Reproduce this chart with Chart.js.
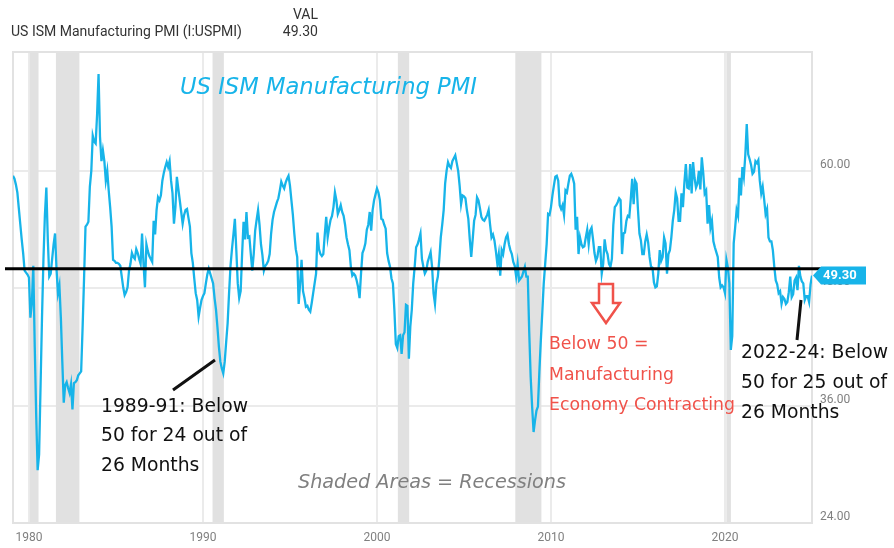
<!DOCTYPE html>
<html>
<head>
<meta charset="utf-8">
<script src="https://cdn.jsdelivr.net/npm/chart.js@4.4.1/dist/chart.umd.min.js"></script>
<style>
  html, body { margin: 0; padding: 0; background: #fff; }
  canvas { display: block; }
</style>
</head>
<body>
<canvas id="chart" width="894" height="548"></canvas>
<script>
"use strict";
// monthly readings, Jan 1979 .. Dec 2024
const START_YEAR = 1979;
const PMI_1979_1988 = [
    59.5, 59.2, 58.6, 57.8, 56.2, 54.6, 53.0, 51.6, 49.8, 49.6, 49.4, 49.1,
    45.0, 46.5, 50.3, 42.0, 35.0, 29.4, 31.0, 38.0, 45.0, 51.0, 55.5, 58.3,
    53.0, 49.2, 49.5, 51.0, 52.5, 53.6, 50.0, 47.5, 48.3, 45.0, 40.5, 36.3,
    38.1, 38.4, 37.8, 37.3, 38.2, 35.6, 38.3, 38.4, 38.6, 39.1, 39.3, 39.5,
    44.0, 49.0, 54.3, 54.5, 54.8, 58.4, 60.0, 63.6, 63.0, 62.8, 65.8, 69.9,
    63.5, 61.0, 62.1, 61.0, 59.0, 60.0, 58.0, 56.3, 54.3, 50.9, 50.8, 50.6,
    50.6, 50.5, 50.3, 49.2, 48.1, 47.3, 47.6, 48.1, 49.8, 50.5, 51.6, 51.2,
    51.0, 52.0, 51.6, 51.0, 50.5, 53.6, 50.5, 48.1, 52.5, 51.8, 51.3, 51.0,
    50.7, 54.9, 53.5, 56.0, 57.3, 57.0, 57.5, 59.0, 59.8, 60.4, 60.9, 60.4,
    61.0, 59.0, 57.7, 54.6, 56.3, 59.4, 58.2, 57.0, 55.8, 54.6, 55.5, 56.0,
];
const PMI_1989_1998 = [
    56.1, 55.2, 54.3, 51.6, 50.6, 49.0, 47.5, 46.8, 45.1, 46.0, 46.8, 47.2,
    47.5, 48.5, 49.4, 50.0, 49.5, 49.0, 48.5, 47.0, 45.8, 44.0, 42.0, 40.5,
    39.8, 39.3, 40.5, 42.5, 44.4, 47.5, 50.3, 52.0, 53.5, 55.1, 51.9, 48.5,
    47.0, 47.7, 51.5, 54.8, 53.0, 55.8, 53.2, 53.3, 51.5, 49.8, 51.5, 53.9,
    55.0, 56.0, 54.5, 52.5, 51.4, 49.8, 50.3, 50.5, 50.8, 51.5, 53.6, 55.0,
    55.8, 56.3, 56.8, 57.2, 58.0, 58.9, 58.5, 58.2, 58.8, 59.2, 59.5, 58.5,
    57.0, 55.5, 53.6, 52.0, 51.2, 46.4, 48.5, 50.9, 47.7, 47.0, 46.1, 46.2,
    45.8, 45.6, 46.5, 47.5, 48.5, 49.5, 53.7, 52.0, 51.5, 51.3, 51.5, 53.5,
    55.3, 53.2, 54.2, 55.0, 55.4, 56.3, 57.8, 57.0, 55.6, 56.0, 56.5, 55.8,
    55.4, 54.5, 53.2, 52.5, 51.9, 50.2, 49.3, 49.5, 49.3, 48.8, 48.1, 47.0,
];
const PMI_1999_2008 = [
    49.5, 51.6, 52.0, 52.6, 54.0, 54.5, 55.8, 53.9, 56.0, 57.0, 57.6, 58.2,
    57.8, 57.0, 55.1, 55.0, 54.5, 54.1, 51.6, 50.8, 50.2, 49.0, 48.5, 45.8,
    42.3, 41.9, 43.1, 43.2, 41.3, 43.2, 43.5, 46.3, 46.2, 40.8, 44.1, 45.8,
    48.5, 50.2, 52.2, 52.5, 53.0, 53.6, 51.0, 50.2, 49.5, 49.8, 50.7, 51.2,
    51.7, 50.2, 47.5, 46.4, 48.5, 49.2, 51.0, 53.2, 54.5, 56.0, 58.7, 60.0,
    60.9, 60.5, 60.3, 61.0, 61.3, 61.6, 60.8, 60.0, 58.5, 56.6, 57.5, 57.4,
    57.2, 56.0, 55.1, 53.0, 51.2, 53.0, 54.9, 55.5, 57.3, 57.0, 56.2, 55.3,
    55.0, 54.9, 55.2, 55.5, 56.0, 54.5, 53.2, 53.5, 52.9, 51.8, 50.5, 51.5,
    49.3, 51.9, 51.5, 52.5, 53.2, 53.5, 52.5, 51.9, 51.5, 50.7, 50.3, 49.2,
    50.5, 48.8, 49.0, 49.2, 49.7, 50.2, 49.2, 49.2, 43.5, 38.9, 35.9, 33.3,
];
const PMI_2009_2018 = [
    34.5, 35.5, 35.9, 39.5, 42.7, 45.5, 48.5, 50.5, 52.5, 55.6, 55.5, 56.3,
    57.5, 58.5, 59.4, 59.5, 59.0, 56.5, 56.1, 56.5, 55.5, 58.0, 57.8, 58.7,
    59.5, 59.7, 59.3, 58.7, 54.0, 55.3, 51.5, 53.2, 52.5, 52.2, 52.3, 53.2,
    54.0, 52.5, 53.9, 54.2, 53.0, 51.6, 50.8, 51.2, 52.2, 52.2, 49.5, 50.5,
    53.0, 51.9, 51.5, 50.5, 50.2, 51.0, 54.5, 56.3, 56.5, 56.8, 57.2, 57.0,
    51.5, 53.6, 53.7, 54.9, 55.4, 55.3, 57.1, 59.2, 56.6, 59.0, 58.7, 56.0,
    53.6, 52.9, 51.5, 51.5, 52.8, 53.5, 52.7, 51.2, 50.2, 50.1, 48.6, 48.1,
    48.2, 49.5, 51.9, 50.8, 51.2, 53.2, 52.6, 49.5, 51.5, 51.9, 53.2, 54.9,
    56.0, 57.8, 57.2, 54.9, 54.9, 57.7, 56.3, 58.8, 60.7, 58.3, 58.2, 60.7,
    57.7, 60.9, 59.3, 58.3, 58.7, 60.0, 58.1, 61.4, 59.8, 57.7, 58.0, 54.6,
];
const PMI_2019_2024 = [
    56.5, 54.2, 54.9, 52.8, 52.2, 51.7, 51.2, 49.1, 48.1, 48.3, 48.1, 47.5,
    50.9, 50.1, 48.5, 41.7, 43.1, 52.6, 54.2, 56.0, 55.4, 59.3, 57.5, 60.4,
    59.4, 61.6, 64.8, 61.7, 61.2, 60.6, 59.7, 59.9, 61.0, 60.8, 61.1, 59.0,
    57.7, 58.4, 57.1, 55.6, 56.1, 53.2, 52.8, 52.8, 51.9, 50.2, 48.8, 48.4,
    47.5, 47.7, 46.4, 47.1, 46.9, 46.4, 46.6, 47.6, 49.2, 47.1, 47.4, 48.8,
    49.1, 47.8, 50.3, 49.2, 48.7, 48.5, 46.8, 47.2, 47.2, 46.6, 48.4, 49.3,
];
const PMI = [].concat(PMI_1979_1988, PMI_1989_1998, PMI_1999_2008, PMI_2009_2018, PMI_2019_2024);

// NBER recessions, as decimal years
const RECESSION_START = [1980.05, 1981.55, 1990.55, 2001.2, 2007.95, 2020.08];
const RECESSION_END = [1980.55, 1982.9, 1991.2, 2001.85, 2009.45, 2020.34];

const YEAR_TICKS = [1980, 1990, 2000, 2010, 2020];
const VALUE_TICKS = [24, 36, 48, 60];
const THRESHOLD = 50;

const BLUE = "#17b4e9";
const COMIC = "'Comic Sans MS', 'DejaVu Sans', sans-serif";

const NOTES = [
    { lines: ["US ISM Manufacturing PMI"], x: 180, y: 88, w: 297, color: BLUE, style: "italic" },
    { lines: ["1989-91: Below", "50 for 24 out of", "26 Months"], x: 101, y: 407, w: 147, gap: 29.5, color: "#111" },
    { lines: ["Below 50 =", "Manufacturing", "Economy Contracting"], x: 549, y: 345, w: 186, fit: 2, gap: 30.5, color: "#f0524a" },
    { lines: ["Shaded Areas = Recessions"], x: 298, y: 483, w: 268, color: "#808080", style: "italic" },
    { lines: ["2022-24: Below", "50 for 25 out of", "26 Months"], x: 741, y: 353, w: 147, gap: 30, color: "#111" },
];

function fontSizeFor(ctx, text, width, style, family) {
    ctx.font = `${style} 20px ${family}`;
    return (20 * width) / ctx.measureText(text).width;
}

const overlay = {
    id: "overlay",
    beforeDraw(chart) {
        const ctx = chart.ctx;
        ctx.save();
        ctx.fillStyle = "#fff";
        ctx.fillRect(0, 0, chart.width, chart.height);
        ctx.restore();
    },
    beforeDatasetsDraw(chart) {
        const { ctx, chartArea: a, scales } = chart;
        ctx.save();
        ctx.fillStyle = "#e1e1e1";
        RECESSION_START.forEach(function (s, i) {
            const x0 = scales.x.getPixelForValue(s);
            const x1 = scales.x.getPixelForValue(RECESSION_END[i]);
            ctx.fillRect(x0, a.top, x1 - x0, a.bottom - a.top);
        });
        ctx.strokeStyle = "#e2e2e2";
        ctx.lineWidth = 2;
        ctx.strokeRect(a.left, a.top, a.right - a.left, a.bottom - a.top);
        ctx.restore();
    },
    afterDatasetsDraw(chart) {
        const { ctx, chartArea: a, scales } = chart;
        const last = PMI[PMI.length - 1];
        ctx.save();

        // 50 line
        const y50 = scales.y.getPixelForValue(THRESHOLD);
        ctx.strokeStyle = "#000";
        ctx.lineWidth = 3;
        ctx.beginPath();
        ctx.moveTo(a.left - 8, y50);
        ctx.lineTo(a.right + 10, y50);
        ctx.stroke();

        // last value tag
        const yl = scales.y.getPixelForValue(last);
        const tx = a.right + 1;
        ctx.fillStyle = BLUE;
        ctx.beginPath();
        ctx.moveTo(tx, yl);
        ctx.lineTo(tx + 8, yl - 9);
        ctx.lineTo(tx + 53, yl - 9);
        ctx.lineTo(tx + 53, yl + 9);
        ctx.lineTo(tx + 8, yl + 9);
        ctx.closePath();
        ctx.fill();
        ctx.fillStyle = "#fff";
        ctx.font = "bold 13px Roboto";
        ctx.textBaseline = "middle";
        ctx.textAlign = "left";
        ctx.fillText(last.toFixed(2), tx + 10, yl + 0.5);

        // leader lines
        ctx.strokeStyle = "#111";
        ctx.lineWidth = 3;
        ctx.beginPath();
        ctx.moveTo(173, 390);
        ctx.lineTo(215, 360);
        ctx.moveTo(797, 340);
        ctx.lineTo(801, 300);
        ctx.stroke();

        // red hollow arrow
        ctx.strokeStyle = "#f0524a";
        ctx.lineWidth = 2.5;
        ctx.lineJoin = "miter";
        ctx.beginPath();
        ctx.moveTo(599, 284);
        ctx.lineTo(613, 284);
        ctx.lineTo(613, 303);
        ctx.lineTo(620, 303);
        ctx.lineTo(606, 323);
        ctx.lineTo(592, 303);
        ctx.lineTo(599, 303);
        ctx.closePath();
        ctx.stroke();

        // notes
        NOTES.forEach(function (n) {
            const style = n.style || "normal";
            const size = fontSizeFor(ctx, n.lines[n.fit || 0], n.w, style, COMIC);
            ctx.font = `${style} ${size.toFixed(2)}px ${COMIC}`;
            ctx.fillStyle = n.color;
            ctx.textAlign = "left";
            ctx.textBaseline = "middle";
            n.lines.forEach(function (line, i) {
                ctx.fillText(line, n.x, n.y + i * (n.gap || 0));
            });
        });

        // header
        ctx.fillStyle = "#333";
        ctx.textBaseline = "middle";
        const hs = fontSizeFor(ctx, "US ISM Manufacturing PMI (I:USPMI)", 231, "normal", "Roboto");
        ctx.font = `${hs.toFixed(2)}px Roboto`;
        ctx.textAlign = "left";
        ctx.fillText("US ISM Manufacturing PMI (I:USPMI)", 11, 32.5);
        ctx.textAlign = "right";
        ctx.fillText("VAL", 318, 15);
        ctx.fillText(last.toFixed(2), 318, 32.5);
        ctx.restore();
    },
};

const points = PMI.map(function (v, i) {
    return { x: START_YEAR + (i + 1) / 12, y: v };
});

const gridStyle = { color: "#ebebeb", lineWidth: 2, drawTicks: false };
const tickFont = { family: "Roboto", size: 12 };

new Chart(document.getElementById("chart"), {
    type: "line",
    data: {
        datasets: [
            {
                data: points,
                borderColor: BLUE,
                borderWidth: 2.3,
                pointRadius: 0,
                tension: 0,
                fill: false,
            },
        ],
    },
    options: {
        responsive: false,
        animation: false,
        devicePixelRatio: 1,
        layout: { padding: { left: 13, top: 52, right: 0, bottom: 0 } },
        plugins: { legend: { display: false }, tooltip: { enabled: false } },
        scales: {
            x: {
                type: "linear",
                min: START_YEAR + 1 / 12,
                max: START_YEAR + PMI.length / 12,
                afterBuildTicks: function (s) {
                    s.ticks = YEAR_TICKS.map((v) => ({ value: v }));
                },
                afterFit: function (s) {
                    s.height = 25;
                },
                grid: gridStyle,
                border: { display: false },
                ticks: {
                    padding: 8,
                    color: "#808080",
                    font: tickFont,
                    maxRotation: 0,
                    autoSkip: false,
                    callback: (v) => String(v),
                },
            },
            y: {
                position: "right",
                min: 24,
                max: 72.16,
                afterBuildTicks: function (s) {
                    s.ticks = VALUE_TICKS.map((v) => ({ value: v }));
                },
                afterFit: function (s) {
                    s.width = 82;
                },
                grid: gridStyle,
                border: { display: false },
                ticks: {
                    padding: 8,
                    labelOffset: -6,
                    color: "#808080",
                    font: tickFont,
                    callback: (v) => Number(v).toFixed(2),
                },
            },
        },
    },
    plugins: [overlay],
});
</script>
</body>
</html>
